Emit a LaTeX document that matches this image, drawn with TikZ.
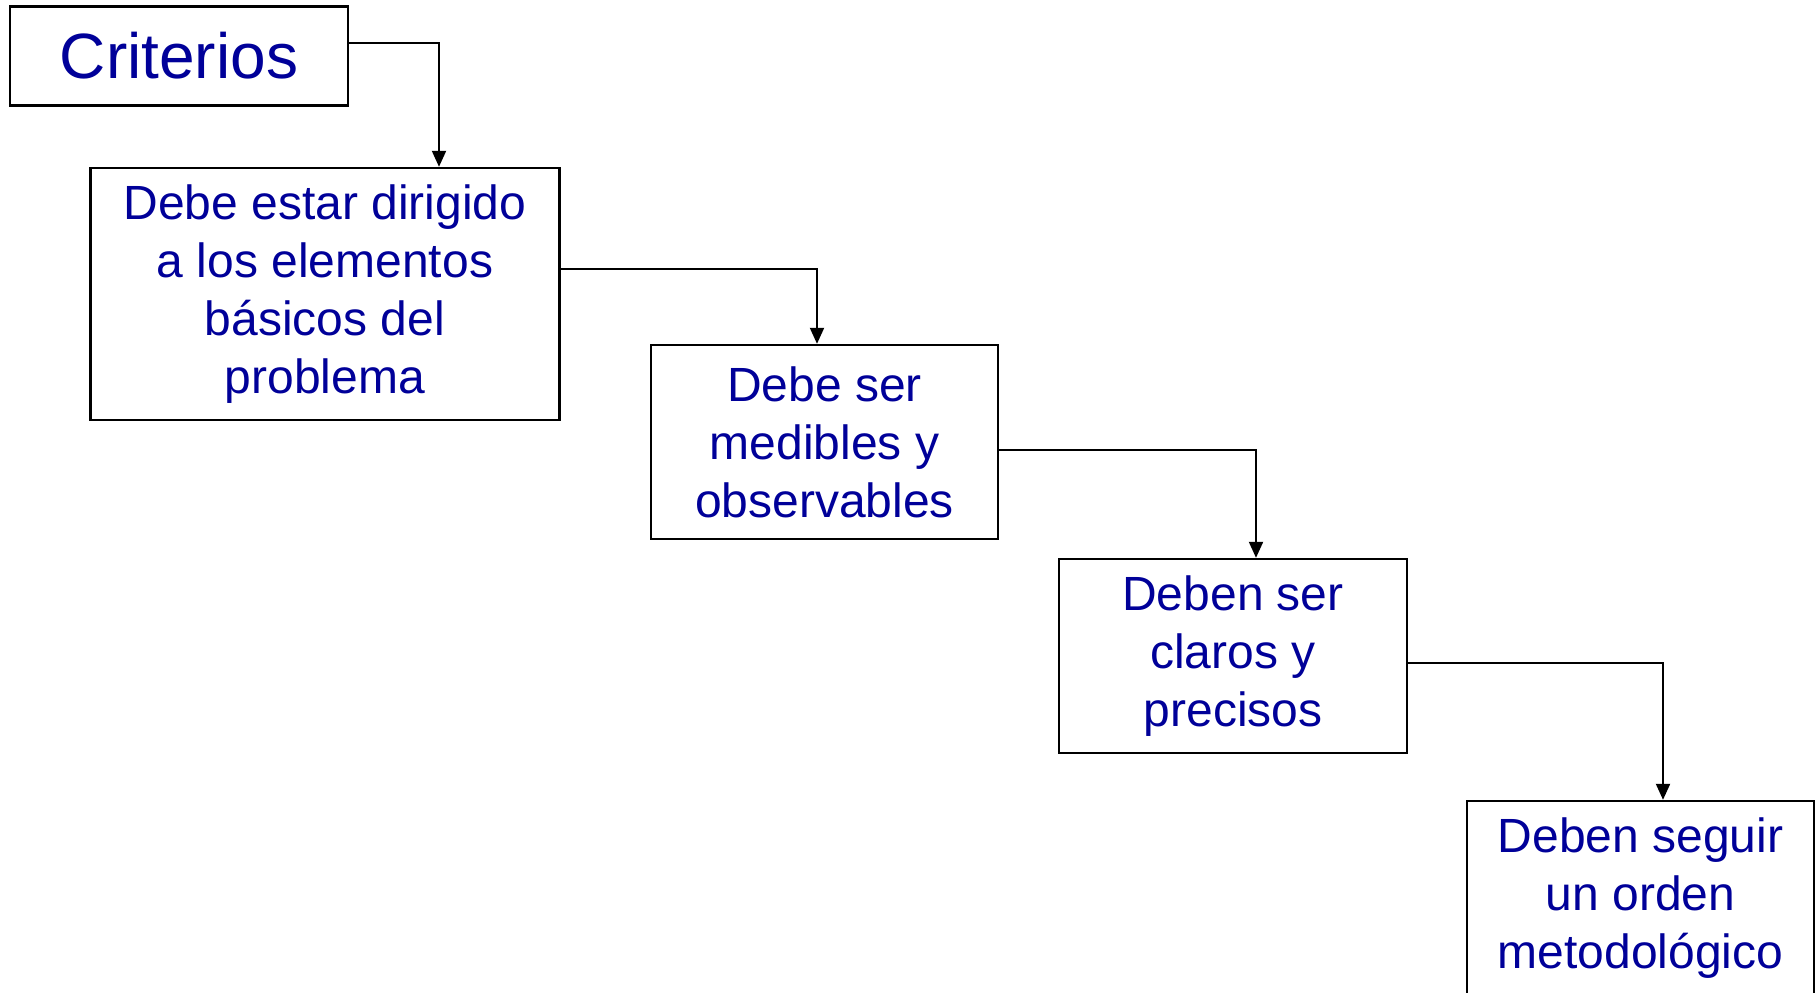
\documentclass[tikz,border=0pt]{standalone}
\usepackage{fontspec}
\setmainfont{Liberation Sans}
\usetikzlibrary{arrows.meta}
\definecolor{critblue}{RGB}{0,0,153}

\begin{document}
\begin{tikzpicture}[x=0.5pt, y=-0.5pt,
		box/.style={draw, line width=1.2pt, align=center, text=critblue, inner sep=0pt,
			font=\fontsize{24}{29}\selectfont},
		link/.style={line width=1pt, -{Triangle[length=8pt, width=7pt]}}]
		\useasboundingbox (0, 0) rectangle (1820, 992);
		\fill[white] (0, 0) rectangle (1820, 992);
		\clip (0, 0) rectangle (1820, 992);
		\node[box, minimum width=169pt, minimum height=49.5pt, font=\fontsize{32}{38}\selectfont] (crit) at (179, 56) {Criterios};
		\node[box, minimum width=234.5pt, minimum height=126pt] (dirigido) at (325, 294) {Debe estar dirigido\\a los elementos\\básicos del\\problema};
		\node[box, minimum width=173.5pt, minimum height=97pt] (medibles) at (824.5, 442) {Debe ser\\medibles y\\observables};
		\node[box, minimum width=174pt, minimum height=97pt] (claros) at (1233, 656) {Deben ser\\claros y\\precisos};
		\node[box, minimum width=173.5pt, minimum height=97pt] (orden) at (1640.5, 898) {Deben seguir\\un orden\\metodológico};
		
		\draw[link] ([yshift=6.5pt]crit.east) -| ([xshift=57pt]dirigido.north);
		\draw[link] ([yshift=12.5pt]dirigido.east) -| ([xshift=-3.75pt]medibles.north);
		\draw[link] ([yshift=-4pt]medibles.east) -| ([xshift=11.5pt]claros.north);
		\draw[link] ([yshift=-3.5pt]claros.east) -| ([xshift=11.25pt]orden.north);
	\end{tikzpicture}
\end{document}
